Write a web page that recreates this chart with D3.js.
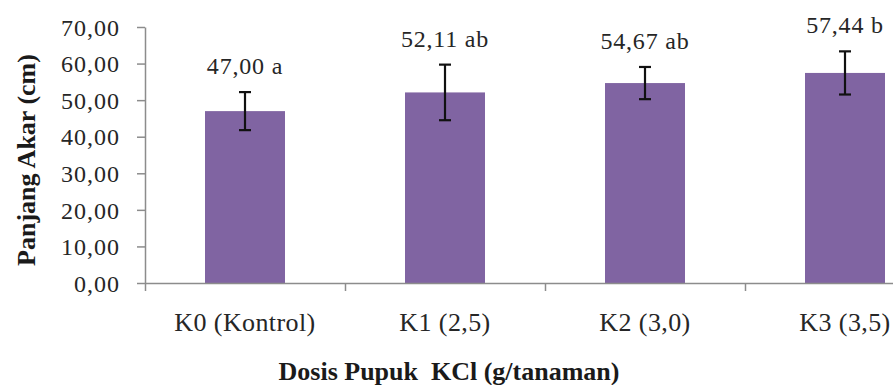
<!DOCTYPE html>
<html>
<head>
<meta charset="utf-8">
<script src="https://cdn.jsdelivr.net/npm/d3@7"></script>
<style>
  body { margin: 0; background: #fff; }
  svg { display: block; font-family: "Liberation Serif", "Times New Roman", serif; }
  .axis path, .axis line { stroke: #8c8c8c; stroke-width: 1.5; }
  .axis text { fill: #262626; font-family: "Liberation Serif", "Times New Roman", serif; }
</style>
</head>
<body>
<div id="chart"></div>
<script>
var categories = ["K0 (Kontrol)", "K1 (2,5)", "K2 (3,0)", "K3 (3,5)"];
var means = [47.00, 52.11, 54.67, 57.44];
var sds = [5.2, 7.6, 4.4, 5.9];
var notes = ["a", "ab", "ab", "b"];
var yTicks = [0, 10, 20, 30, 40, 50, 60, 70];

var w = 893,
    h = 385;

var svg = d3.select("#chart").append("svg")
    .attr("width", w)
    .attr("height", h);

var x = d3.scaleBand()
    .domain(categories)
    .range([145, 945])
    .paddingInner(0.6)
    .paddingOuter(0.3);

var y = d3.scaleLinear()
    .domain([0, 70])
    .range([283, 27]);

var koma = function(v) { return d3.format(".2f")(v).replace(".", ","); };

// bars
svg.selectAll("rect.bar")
    .data(means)
    .enter()
    .append("rect")
    .attr("class", "bar")
    .attr("x", function(d, i) { return x(categories[i]); })
    .attr("y", function(d) { return y(d); })
    .attr("width", x.bandwidth())
    .attr("height", function(d) { return y(0) - y(d); })
    .attr("fill", "#8064a2");

// y axis
var yAxis = svg.append("g")
    .attr("class", "axis")
    .attr("transform", "translate(145,0)")
    .call(d3.axisLeft(y).tickValues(yTicks).tickSize(8).tickSizeOuter(0).tickPadding(17).tickFormat(koma));
yAxis.attr("font-family", null);
yAxis.selectAll("text")
    .style("font-size", "24px")
    .style("letter-spacing", "1px")
    .attr("dy", "0.34em");

// x axis: ticks between categories
var xb = d3.scaleLinear().domain([0, categories.length]).range(x.range());
svg.append("g")
    .attr("class", "axis")
    .attr("transform", "translate(0," + y(0) + ")")
    .call(d3.axisBottom(xb).ticks(categories.length).tickSize(8).tickSizeOuter(0).tickFormat(""));

var xAxis = svg.append("g")
    .attr("class", "axis")
    .attr("transform", "translate(0," + y(0) + ")")
    .call(d3.axisBottom(x).tickSize(0).tickPadding(30));
xAxis.attr("font-family", null);
xAxis.select(".domain").remove();
xAxis.selectAll("text")
    .style("font-size", "26px")
    .style("letter-spacing", "0.4px")
    .attr("dy", "0.71em");

// error bars
var err = svg.selectAll("g.err")
    .data(means)
    .enter()
    .append("g")
    .attr("class", "err")
    .attr("stroke", "#111")
    .attr("stroke-width", 2.2);
err.append("line")
    .attr("x1", function(d, i) { return x(categories[i]) + x.bandwidth() / 2; })
    .attr("x2", function(d, i) { return x(categories[i]) + x.bandwidth() / 2; })
    .attr("y1", function(d, i) { return y(d + sds[i]); })
    .attr("y2", function(d, i) { return y(d - sds[i]); });
[1, -1].forEach(function(s) {
    err.append("line")
        .attr("x1", function(d, i) { return x(categories[i]) + x.bandwidth() / 2 - 6; })
        .attr("x2", function(d, i) { return x(categories[i]) + x.bandwidth() / 2 + 6; })
        .attr("y1", function(d, i) { return y(d + s * sds[i]); })
        .attr("y2", function(d, i) { return y(d + s * sds[i]); });
});

// data labels
svg.selectAll("text.lbl")
    .data(means)
    .enter()
    .append("text")
    .attr("class", "lbl")
    .attr("x", function(d, i) { return x(categories[i]) + x.bandwidth() / 2; })
    .attr("y", function(d, i) { return y(d + sds[i]) - 18; })
    .attr("text-anchor", "middle")
    .style("font-size", "24px")
    .style("letter-spacing", "0.8px")
    .attr("fill", "#262626")
    .text(function(d, i) { return koma(d) + " " + notes[i]; });

// axis titles
svg.append("text")
    .attr("x", 449)
    .attr("y", 380)
    .attr("text-anchor", "middle")
    .style("font-size", "26px")
    .style("font-weight", "bold")
    .style("white-space", "pre")
    .attr("fill", "#1a1a1a")
    .text("Dosis Pupuk  KCl (g/tanaman)");

svg.append("text")
    .attr("transform", "translate(35,160) rotate(-90)")
    .attr("text-anchor", "middle")
    .style("font-size", "26px")
    .style("font-weight", "bold")
    .attr("fill", "#1a1a1a")
    .text("Panjang Akar (cm)");
</script>
</body>
</html>
